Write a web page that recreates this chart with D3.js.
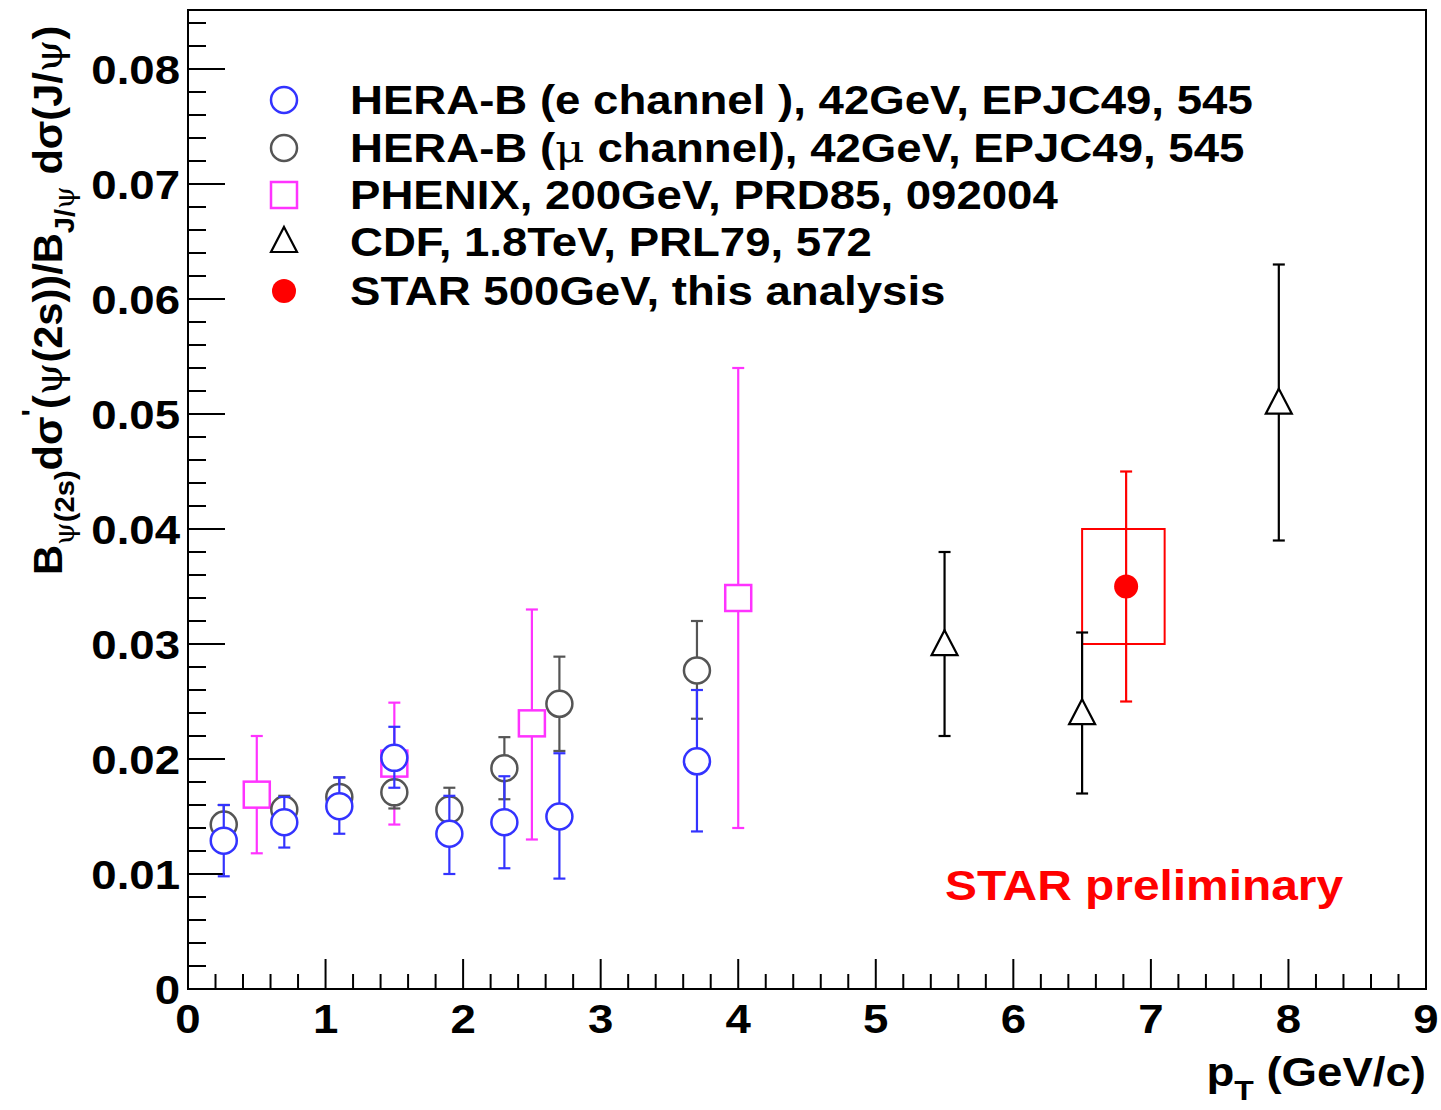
<!DOCTYPE html>
<html>
<head>
<script src="https://d3js.org/d3.v7.min.js"></script>
<style>
body { margin: 0; background: #fff; }
text { font-family: "Liberation Sans", Arial, sans-serif; font-weight: bold; }
.greek { font-family: "DejaVu Serif", serif; font-weight: normal; }
</style>
</head>
<body>
<svg id="chart" width="1441" height="1110"></svg>
<script>
// [pt, value, errHi, errLo]
var heraE = [[0.26,0.0129,0.016,0.0098],[0.7,0.0145,0.0167,0.0123],[1.1,0.0159,0.0184,0.0135],
  [1.5,0.0201,0.0228,0.0175],[1.9,0.0135,0.0168,0.010],[2.3,0.0145,0.0185,0.0105],
  [2.7,0.015,0.0205,0.0096],[3.7,0.0198,0.026,0.0137]];
var heraMu = [[0.26,0.0143,0.016,0.0128],[0.7,0.0156,0.0168,0.0144],[1.1,0.0167,0.0184,0.0155],
  [1.5,0.0171,0.0175,0.0157],[1.9,0.0156,0.0175,0.0137],[2.3,0.0192,0.0219,0.0165],
  [2.7,0.0248,0.0289,0.0207],[3.7,0.0277,0.032,0.0235]];
var phenix = [[0.5,0.0169,0.022,0.0118],[1.5,0.0196,0.0249,0.0143],[2.5,0.0231,0.033,0.013],[4.0,0.034,0.054,0.014]];
var cdf = [[5.5,0.0299,0.038,0.022],[6.5,0.0239,0.031,0.017],[7.93,0.0509,0.063,0.039]];
var star = [[6.82,0.035,0.045,0.025]];
var starSys = [[6.5,7.1,0.03,0.04]];
var legendLabels = ["HERA-B (e channel ), 42GeV, EPJC49, 545","HERA-B (\u03bc channel), 42GeV, EPJC49, 545",
  "PHENIX, 200GeV, PRD85, 092004","CDF, 1.8TeV, PRL79, 572","STAR 500GeV, this analysis"];
var xTicks = [0,1,2,3,4,5,6,7,8,9];
var yTicks = [0,0.01,0.02,0.03,0.04,0.05,0.06,0.07,0.08];

var svg = d3.select("#chart");
var L = 188, R = 1426, T = 10, B = 989;
var SX = 1.14;
var x = d3.scaleLinear().domain([0, 9]).range([L, R]);
var y = d3.scaleLinear().domain([0, 0.08]).range([B, 69]);

// text stretched horizontally like the original font
function label(px, py, size, anchor, rot) {
  return svg.append("text")
    .attr("transform", "translate(" + px + "," + py + ")" + (rot ? " rotate(" + rot + ")" : "") + " scale(" + SX + ",1)")
    .attr("text-anchor", anchor || "start").attr("font-size", size);
}

svg.append("rect").attr("x", L).attr("y", T).attr("width", R - L).attr("height", B - T)
  .attr("fill", "none").attr("stroke", "#000").attr("stroke-width", 2);

// ticks
d3.range(0, 9.01, 0.2).forEach(function(v){
  var major = Math.abs(v - Math.round(v)) < 1e-6;
  svg.append("line").attr("x1", x(v)).attr("x2", x(v)).attr("y1", B).attr("y2", B - (major ? 30 : 15))
    .attr("stroke", "#000").attr("stroke-width", 2);
});
d3.range(0, 0.0851, 0.002).forEach(function(v){
  var major = Math.abs(v * 100 - Math.round(v * 100)) < 1e-6;
  svg.append("line").attr("x1", L).attr("x2", L + (major ? 37 : 18)).attr("y1", y(v)).attr("y2", y(v))
    .attr("stroke", "#000").attr("stroke-width", 2);
});
xTicks.forEach(function(v){ label(x(v), 1033, 40, "middle").text(v); });
yTicks.forEach(function(v){ label(180, y(v) + 15, 40, "end").text(v === 0 ? "0" : v.toFixed(2)); });

// titles
var xt = label(R, 1086, 40, "end");
xt.append("tspan").text("p");
xt.append("tspan").attr("font-size", 28).attr("dy", 14).text("T");
xt.append("tspan").attr("dy", -14).text(" (GeV/c)");

var yt = svg.append("text").attr("transform", "translate(62,575) rotate(-90) scale(1.04,1)").attr("font-size", 40);
yt.append("tspan").text("B");
yt.append("tspan").attr("class", "greek").attr("font-size", 28).attr("dy", 12).text("\u03c8");
yt.append("tspan").attr("font-size", 28).text("(2s)");
yt.append("tspan").attr("dy", -12).text("d\u03c3");
yt.append("tspan").attr("font-size", 30).attr("dy", -20).text("'");
yt.append("tspan").attr("dy", 20).text("(");
yt.append("tspan").attr("class", "greek").text("\u03c8");
yt.append("tspan").text("(2s))/B");
yt.append("tspan").attr("font-size", 28).attr("dy", 12).text("J/");
yt.append("tspan").attr("class", "greek").attr("font-size", 28).text("\u03c8");
yt.append("tspan").attr("dy", -12).text(" d\u03c3(J/");
yt.append("tspan").attr("class", "greek").text("\u03c8");
yt.append("tspan").text(")");

// markers
function marker(g, type, cx, cy, color) {
  if (type === "circle") g.append("circle").attr("cx", cx).attr("cy", cy).attr("r", 13)
    .attr("fill", "#fff").attr("stroke", color).attr("stroke-width", 2.5);
  else if (type === "fcircle") g.append("circle").attr("cx", cx).attr("cy", cy).attr("r", 12).attr("fill", color);
  else if (type === "square") g.append("rect").attr("x", cx - 13).attr("y", cy - 13).attr("width", 26).attr("height", 26)
    .attr("fill", "#fff").attr("stroke", color).attr("stroke-width", 2.5);
  else if (type === "triangle") g.append("path").attr("d", "M" + cx + "," + (cy - 15) + "L" + (cx + 13) + "," + (cy + 10) + "L" + (cx - 13) + "," + (cy + 10) + "Z")
    .attr("fill", "#fff").attr("stroke", color).attr("stroke-width", 2.2);
}
function series(data, type, color) {
  var g = svg.append("g");
  data.forEach(function(d){
    var cx = x(d[0]);
    g.append("line").attr("x1", cx).attr("x2", cx).attr("y1", y(d[2])).attr("y2", y(d[3]))
      .attr("stroke", color).attr("stroke-width", 2.2);
    [d[2], d[3]].forEach(function(v){
      g.append("line").attr("x1", cx - 6).attr("x2", cx + 6).attr("y1", y(v)).attr("y2", y(v))
        .attr("stroke", color).attr("stroke-width", 2.2);
    });
  });
  data.forEach(function(d){ marker(g, type, x(d[0]), y(d[1]), color); });
}
starSys.forEach(function(b){
  svg.append("rect").attr("x", x(b[0])).attr("y", y(b[3])).attr("width", x(b[1]) - x(b[0]))
    .attr("height", y(b[2]) - y(b[3])).attr("fill", "none").attr("stroke", "#f00").attr("stroke-width", 2);
});
series(phenix, "square", "#ff33ff");
series(heraMu, "circle", "#555");
series(heraE, "circle", "#3333ff");
series(cdf, "triangle", "#000");
series(star, "fcircle", "#f00");

// legend
var legTypes = [["circle","#3333ff"],["circle","#555"],["square","#ff33ff"],["triangle","#000"],["fcircle","#f00"]];
var legY = [100, 148, 195, 242, 291];
legendLabels.forEach(function(s, i){
  marker(svg, legTypes[i][0], 284, legY[i], legTypes[i][1]);
  var t = label(350, legY[i] + 14, 40);
  if (s.indexOf("\u03bc") >= 0) {
    var p = s.split("\u03bc");
    t.append("tspan").text(p[0]);
    t.append("tspan").attr("class", "greek").text("\u03bc");
    t.append("tspan").text(p[1]);
  } else t.text(s);
});

label(945, 900, 42).attr("fill", "#f00").text("STAR preliminary");
</script>
</body>
</html>
